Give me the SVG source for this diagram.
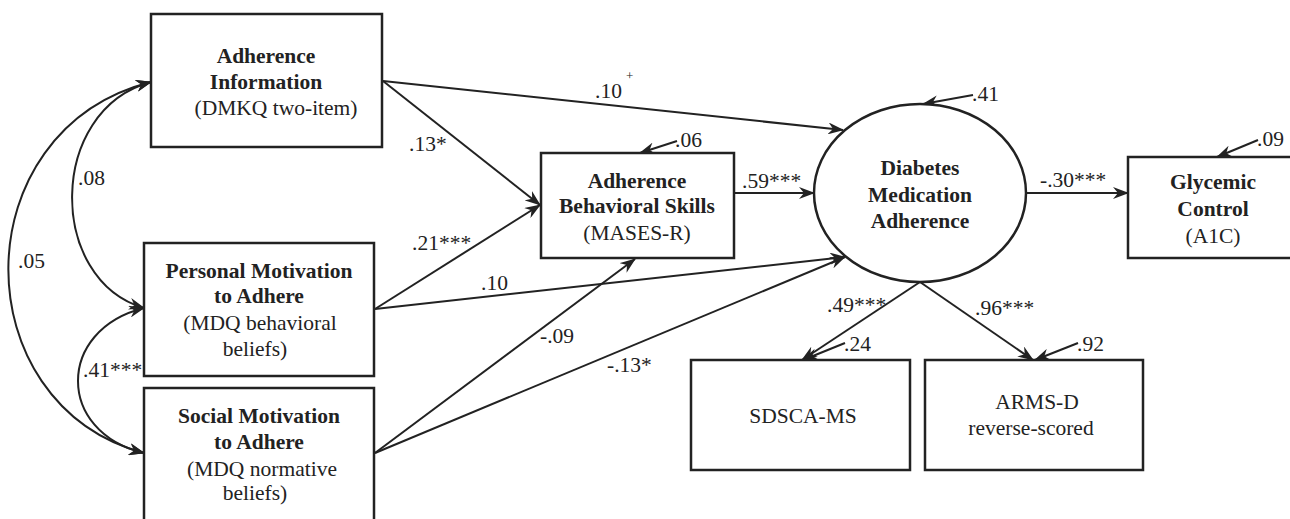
<svg xmlns="http://www.w3.org/2000/svg" width="1290" height="519" viewBox="0 0 1290 519">
<style>
text{font-family:"Liberation Serif","Times New Roman",serif;font-size:21.5px;fill:#222}
.b{font-weight:bold}
.m{text-anchor:middle}
.box{fill:#fff;stroke:#222;stroke-width:2.5}
.ln{fill:none;stroke:#222;stroke-width:2}
.a{marker-end:url(#ah)}
.aa{marker-end:url(#ah);marker-start:url(#ah)}
</style>
<defs>
<marker id="ah" viewBox="0 0 16 12" refX="15" refY="6" markerWidth="16" markerHeight="12" markerUnits="userSpaceOnUse" orient="auto-start-reverse">
<path d="M0,0 L16,6 L0,12 L5,6 z" fill="#222"/>
</marker>
</defs>
<rect width="1290" height="519" fill="#fff"/>
<g id="connectors">
<path class="ln aa" d="M151,82 C-38,130 -38,404 144,453"/>
<path class="ln aa" d="M151,82 C47,110 47,280 144,308"/>
<path class="ln aa" d="M144,308 C56,330 56,432 144,453"/>
<line class="ln a" x1="383" y1="81" x2="843" y2="130"/>
<line class="ln a" x1="383" y1="81" x2="540" y2="205"/>
<line class="ln a" x1="375" y1="309" x2="540" y2="205"/>
<line class="ln a" x1="375" y1="309" x2="845" y2="257"/>
<line class="ln a" x1="375" y1="453" x2="635" y2="259"/>
<line class="ln a" x1="375" y1="453" x2="845" y2="257"/>
<line class="ln a" x1="734" y1="193" x2="814" y2="193"/>
<line class="ln a" x1="1026" y1="193" x2="1128" y2="193"/>
<line class="ln a" x1="920" y1="282" x2="802" y2="360"/>
<line class="ln a" x1="920" y1="282" x2="1033" y2="360"/>
<line class="ln a" x1="677" y1="141" x2="640" y2="153"/>
<line class="ln a" x1="973" y1="95" x2="923" y2="104"/>
<line class="ln a" x1="1258" y1="140" x2="1217" y2="157"/>
<line class="ln a" x1="845" y1="343" x2="803" y2="360"/>
<line class="ln a" x1="1078" y1="343" x2="1035" y2="360"/>
<text x="78" y="185">.08</text>
<text x="18" y="268">.05</text>
<text x="83" y="377">.41***</text>
<text x="595" y="98">.10</text>
<text x="626" y="80" style="font-size:13px">+</text>
<text x="409" y="151">.13*</text>
<text x="412" y="250">.21***</text>
<text x="481" y="290">.10</text>
<text x="540" y="343">-.09</text>
<text x="607" y="372">-.13*</text>
<text x="742" y="188">.59***</text>
<text x="1040" y="187">-.30***</text>
<text x="827" y="312">.49***</text>
<text x="975" y="315">.96***</text>
<text x="675" y="147">.06</text>
<text x="972" y="101">.41</text>
<text x="1257" y="146">.09</text>
<text x="844" y="351">.24</text>
<text x="1077" y="351">.92</text>
</g>
<g id="info">
<rect class="box" x="151" y="14" width="231" height="133"/>
<text class="b m" x="266" y="63">Adherence</text>
<text class="b m" x="266" y="89">Information</text>
<text class="m" x="276" y="115">(DMKQ two-item)</text>
</g>
<g id="personal">
<rect class="box" x="144" y="243" width="230" height="133"/>
<text class="b m" x="259" y="278">Personal Motivation</text>
<text class="b m" x="259" y="303">to Adhere</text>
<text class="m" x="260" y="330">(MDQ behavioral</text>
<text class="m" x="255" y="356">beliefs)</text>
</g>
<g id="social">
<rect class="box" x="144" y="388" width="230" height="150"/>
<text class="b m" x="259" y="423">Social Motivation</text>
<text class="b m" x="259" y="449">to Adhere</text>
<text class="m" x="262" y="476">(MDQ normative</text>
<text class="m" x="255" y="500">beliefs)</text>
</g>
<g id="skills">
<rect class="box" x="541" y="153" width="193" height="105"/>
<text class="b m" x="637" y="188">Adherence</text>
<text class="b m" x="637" y="213">Behavioral Skills</text>
<text class="m" x="637" y="240">(MASES-R)</text>
</g>
<g id="adherence">
<ellipse class="box" cx="920" cy="193" rx="106" ry="89"/>
<text class="b m" x="920" y="175">Diabetes</text>
<text class="b m" x="920" y="202">Medication</text>
<text class="b m" x="920" y="228">Adherence</text>
</g>
<g id="glycemic">
<rect class="box" x="1128" y="157" width="170" height="101"/>
<text class="b m" x="1213" y="189">Glycemic</text>
<text class="b m" x="1213" y="216">Control</text>
<text class="m" x="1213" y="243">(A1C)</text>
</g>
<g id="sdsca">
<rect class="box" x="691" y="360" width="219" height="110"/>
<text class="m" x="803" y="423">SDSCA-MS</text>
</g>
<g id="arms">
<rect class="box" x="925" y="360" width="218" height="110"/>
<text class="m" x="1037" y="409">ARMS-D</text>
<text class="m" x="1031" y="435">reverse-scored</text>
</g>
</svg>
